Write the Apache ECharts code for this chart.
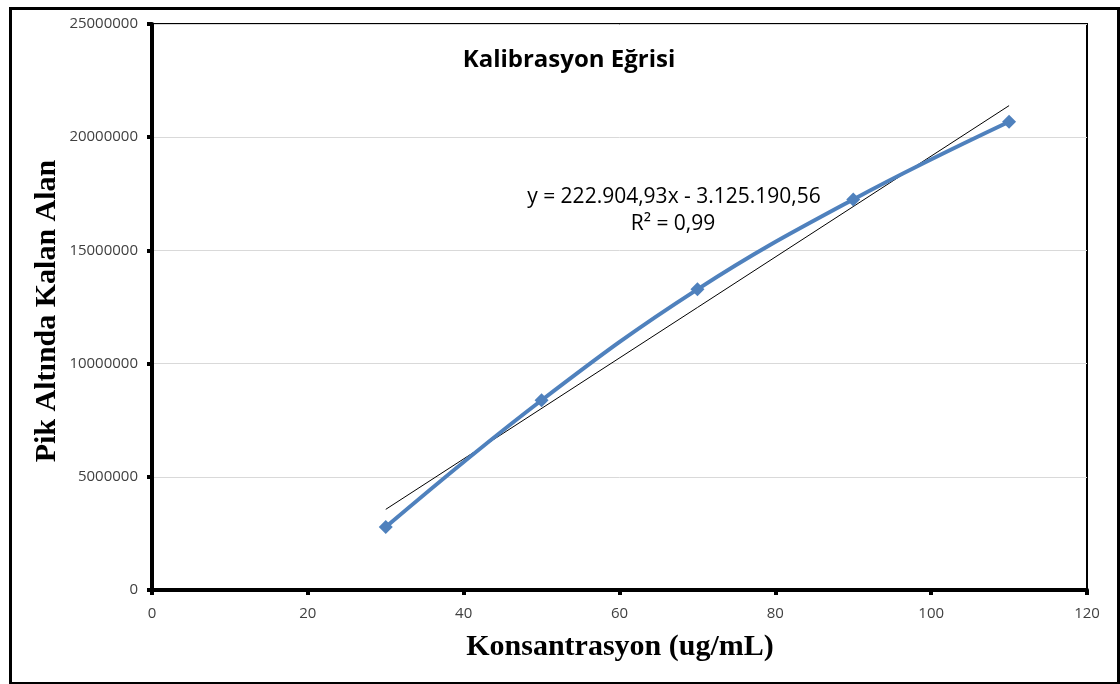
<!DOCTYPE html>
<html>
<head>
<meta charset="utf-8">
<script src="https://cdn.jsdelivr.net/npm/echarts@6/dist/echarts.min.js"></script>
<style>
html,body{margin:0;padding:0;background:#fff;}
#c{width:1120px;height:684px;}
</style>
</head>
<body>
<div id="c"></div>
<script>
const concentrations = [30, 50, 70, 90, 110];
const areas = [2780000, 8380000, 13280000, 17250000, 20680000];
const trendSlope = 222904.93;
const trendIntercept = -3125190.56;
const trendRange = [30, 110];
const titleText = 'Kalibrasyon Eğrisi';
const equationText = 'y = 222.904,93x - 3.125.190,56';
const r2Text = 'R² = 0,99';
const xAxisTitle = 'Konsantrasyon (ug/mL)';
const yAxisTitle = 'Pik Altında Kalan Alan';

const seriesData = concentrations.map((x, i) => [x, areas[i]]);
const trendData = trendRange.map(x => [x, trendSlope * x + trendIntercept]);

const chart = echarts.init(document.getElementById('c'));
const labelFont = '"Open Sans", "Noto Sans", sans-serif';
const serif = '"Liberation Serif", "DejaVu Serif", serif';
chart.setOption({
  animation: false,
  backgroundColor: '#fff',
  grid: {
    left: 152, top: 24, right: 33, bottom: 94,
    show: true, borderColor: '#000', borderWidth: 2, backgroundColor: 'transparent'
  },
  xAxis: {
    type: 'value', min: 0, max: 120, interval: 20,
    axisLine: { show: true, onZero: false, lineStyle: { color: '#000', width: 4 } },
    axisTick: { show: true, length: 5, lineStyle: { color: '#000', width: 4 } },
    splitLine: { show: false },
    axisLabel: { color: '#404040', fontSize: 15, fontFamily: labelFont, margin: 16 }
  },
  yAxis: {
    type: 'value', min: 0, max: 25000000, interval: 5000000,
    axisLine: { show: true, onZero: false, lineStyle: { color: '#000', width: 4 } },
    axisTick: { show: true, length: 5, lineStyle: { color: '#000', width: 4 } },
    splitLine: { show: true, lineStyle: { color: '#D9D9D9', width: 1 } },
    axisLabel: { color: '#404040', fontSize: 15, fontFamily: labelFont, margin: 14,
      formatter: v => String(v) }
  },
  series: [
    {
      type: 'line', data: trendData, symbol: 'none', silent: true,
      lineStyle: { color: '#000', width: 1 }, z: 3
    },
    {
      type: 'line', data: seriesData, smooth: 0.4,
      symbol: 'diamond', symbolSize: 14,
      itemStyle: { color: '#4F81BD' },
      lineStyle: { color: '#4F81BD', width: 4 }, z: 4
    }
  ],
  graphic: [
    { type: 'rect', left: 8, top: 6, shape: { width: 1108, height: 675 },
      style: { fill: 'none', stroke: '#000', lineWidth: 3 }, z: -1 },
    { type: 'text', x: 569, y: 60, style: { text: titleText, textAlign: 'center', textVerticalAlign: 'middle',
      font: 'bold 24px "Open Sans", sans-serif', fill: '#000' } },
    { type: 'text', x: 674, y: 197, style: { text: equationText, textAlign: 'center', textVerticalAlign: 'middle',
      font: '21px "Open Sans", sans-serif', fill: '#000' } },
    { type: 'text', x: 673, y: 224, style: { text: r2Text, textAlign: 'center', textVerticalAlign: 'middle',
      font: '21px "Open Sans", sans-serif', fill: '#000' } },
    { type: 'text', x: 620, y: 647, style: { text: xAxisTitle, textAlign: 'center', textVerticalAlign: 'middle',
      font: 'bold 30px ' + serif, fill: '#000' } },
    { type: 'text', rotation: Math.PI / 2, x: 47, y: 311, style: { text: yAxisTitle,
      font: 'bold 30px ' + serif, fill: '#000',
      textAlign: 'center', textVerticalAlign: 'middle' } }
  ]
});
</script>
</body>
</html>
